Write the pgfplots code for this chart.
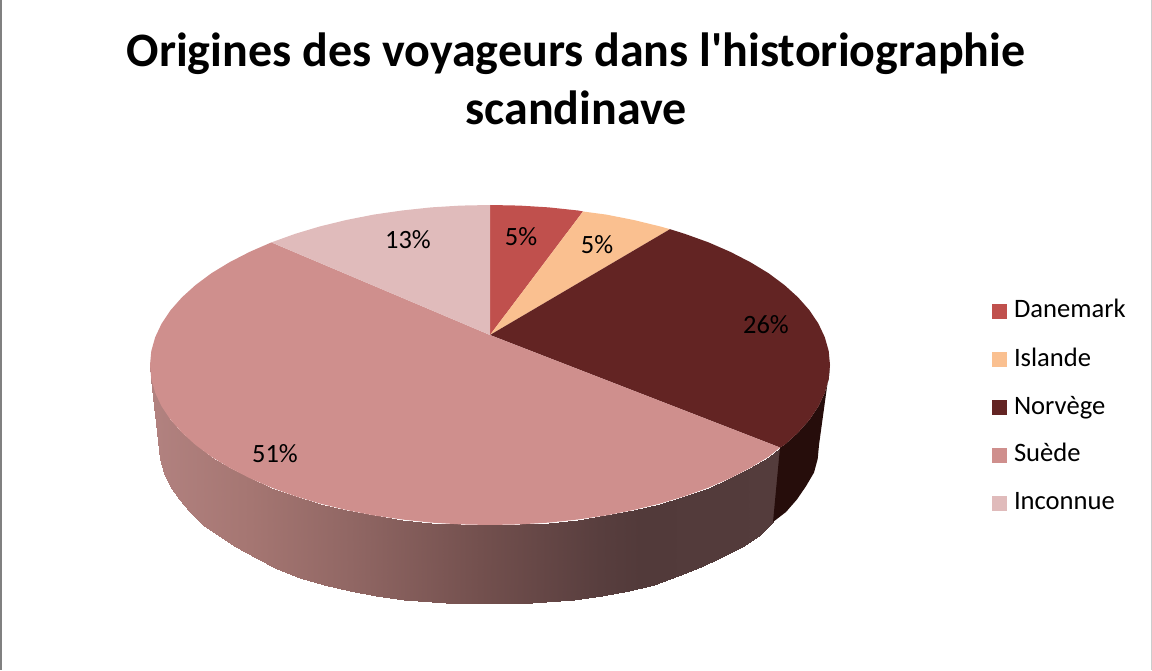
\documentclass[border=0pt]{standalone}
\usepackage{fontspec}
\setmainfont{Carlito}
\newfontfamily\titlefont{Carlito}
\usepackage{pgfplots}
\pgfplotsset{compat=1.18}
\definecolor{danemark}{RGB}{192,80,77}
\definecolor{islande}{RGB}{250,192,144}
\definecolor{norvege}{RGB}{99,36,35}
\definecolor{suede}{RGB}{207,143,141}
\definecolor{inconnue}{RGB}{224,187,187}
\definecolor{norvegewall}{RGB}{38,13,11}
\begin{document}
\begin{tikzpicture}
\begin{axis}[
  scale only axis, width=1152pt, height=670pt,
  xmin=0, xmax=1152, ymin=0, ymax=670,
  hide axis, clip=true,
  colormap={wall}{rgb255(150)=(178,130,128) rgb255(250)=(165,118,114) rgb255(350)=(145,103,100) rgb255(480)=(115,80,78) rgb255(600)=(88,62,62) rgb255(640)=(82,58,58) rgb255(785)=(84,60,60)},
  point meta min=150, point meta max=785,
  legend style={draw=none, fill=none, at={(axis cs:992,370)}, anchor=north west,
    font=\fontsize{26.6}{30}\selectfont, inner sep=0pt, outer sep=0pt,
    /tikz/row sep=24pt,
    nodes={text height=18pt, text depth=6pt, anchor=base west, inner sep=0pt}},
  legend cell align=left,
  legend image code/.code={\fill[#1] (0pt,-1pt) rectangle (15pt,14pt); \path (0pt,0pt) (22pt,0pt);},
]
% frame
\addplot[forget plot, draw=gray, line width=2pt] coordinates {(0.5,0) (0.5,670)};
\addplot[forget plot, draw=black!20, line width=2pt] coordinates {(1151.5,0) (1151.5,670)};
\addplot[forget plot, draw=black!10, line width=1pt] coordinates {(0,670) (1152,670)};
% side wall of Suede
\addplot[forget plot, surf, shader=interp, mesh/cols=31, point meta=x] table {
x y
150 305
151.3 291
155.2 277.2
161.6 263.6
170.5 250.3
181.9 237.4
195.6 225
211.5 213.2
229.6 202.2
249.6 191.9
271.4 182.4
295 173.9
320 166.4
346.3 160
373.7 154.6
402 150.5
431 147.4
460.4 145.6
490 145
519.6 145.6
549 147.4
578 150.5
606.3 154.6
633.7 160
660 166.4
685 173.9
708.6 182.4
730.4 191.9
750.4 202.2
768.5 213.2
780 222.5
159 225
160.3 211.1
164 197.4
170.2 183.8
178.9 170.6
189.9 157.8
203.2 145.5
218.7 133.8
236.2 122.8
255.7 111.6
276.9 101.2
299.7 92.2
324 84.8
349.5 78.9
376.1 74.1
403.6 70.4
431.7 67.9
460.2 66.4
489 66
517.8 66.4
546.3 67.9
574.4 70.4
601.9 74.1
628.5 79.2
654 85.3
678.3 93.7
701.1 103.2
722.3 112.6
741.8 122.8
759.3 133.8
773 148
};
% side wall of Norvege
\addplot[forget plot, fill=norvegewall, draw=none] coordinates {
(780,222.5) (784.4,225) (798.1,237.4) (809.5,250.3) (818.4,263.6) (824.8,277.2) (828.7,291) (830,305)
(819,225) (817.7,211.1) (814,197.4) (806,183.8) (797,170.6) (786,158) (773,148)} --cycle;
% top faces
\addplot[fill=danemark, draw=none] coordinates {
(490,335) (490,465) (519.6,464.4) (549,462.6) (578,459.5) (583,458.5)} --cycle;
\addlegendentry{Danemark}
\addplot[fill=islande, draw=none] coordinates {
(490,335) (583,458.5) (606.3,455.4) (633.7,450) (660,443.6) (670,440.8)} --cycle;
\addlegendentry{Islande}
\addplot[fill=norvege, draw=none] coordinates {
(490,335) (670,440.8) (685,436.1) (708.6,427.6) (730.4,418.1) (750.4,407.8) (768.5,396.8) (784.4,385)
(798.1,372.6) (809.5,359.7) (818.4,346.4) (824.8,332.8) (828.7,319) (830,305)
(828.7,291) (824.8,277.2) (818.4,263.6) (809.5,250.3) (798.1,237.4) (784.4,225) (780,222.5)} --cycle;
\addlegendentry{Norvège}
\addplot[fill=suede, draw=none] coordinates {
(490,335) (780,222.5) (768.5,213.2) (750.4,202.2) (730.4,191.9) (708.6,182.4) (685,173.9) (660,166.4)
(633.7,160) (606.3,154.6) (578,150.5) (549,147.4) (519.6,145.6) (490,145) (460.4,145.6) (431,147.4)
(402,150.5) (373.7,154.6) (346.3,160) (320,166.4) (295,173.9) (271.4,182.4) (249.6,191.9) (229.6,202.2)
(211.5,213.2) (195.6,225) (181.9,237.4) (170.5,250.3) (161.6,263.6) (155.2,277.2) (151.3,291) (150,305)
(151.3,319) (155.2,332.8) (161.6,346.4) (170.5,359.7) (181.9,372.6) (195.6,385) (211.5,396.8) (229.6,407.8)
(249.6,418.1) (271.4,427.6)} --cycle;
\addlegendentry{Suède}
\addplot[fill=inconnue, draw=none] coordinates {
(490,335) (271.4,427.6) (295,436.1) (320,443.6) (346.3,450) (373.7,455.4) (402,459.5) (431,462.6) (460.4,464.4) (490,465)} --cycle;
\addlegendentry{Inconnue}
% data labels
\node[font=\fontsize{26.4}{30}\selectfont] at (axis cs:521,433) {5\%};
\node[font=\fontsize{26.4}{30}\selectfont] at (axis cs:597,425) {5\%};
\node[font=\fontsize{26.4}{30}\selectfont] at (axis cs:766,345) {26\%};
\node[font=\fontsize{26.4}{30}\selectfont] at (axis cs:275,216) {51\%};
\node[font=\fontsize{26.4}{30}\selectfont] at (axis cs:408,430) {13\%};
% title
\node[font=\titlefont\fontsize{48}{58}\selectfont\bfseries, align=center] at (axis cs:576,591) {Origines des voyageurs dans l'historiographie\\scandinave};
\end{axis}
\end{tikzpicture}
\end{document}
